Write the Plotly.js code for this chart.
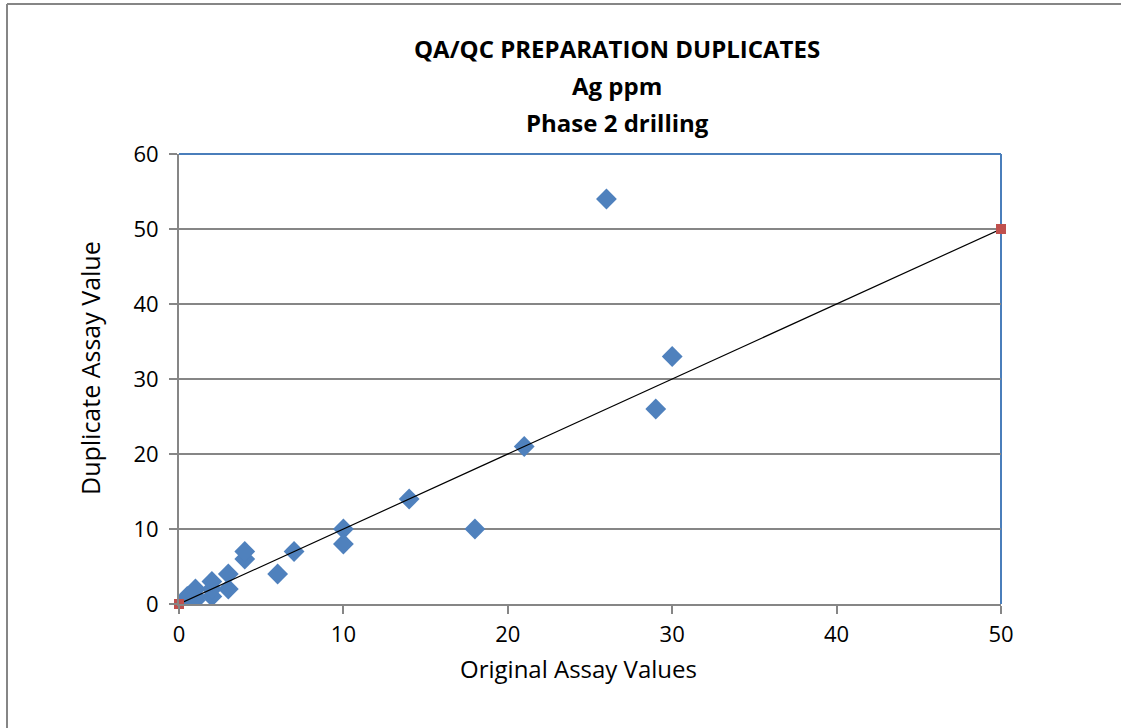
<!DOCTYPE html>
<html>
<head>
<meta charset="utf-8">
<script src="https://cdn.plot.ly/plotly-3.0.1.min.js"></script>
<style>html,body{margin:0;padding:0;background:#fff}#chart{width:1121px;height:728px}</style>
</head>
<body>
<div id="chart"></div>
<script>
const originalValues = [0.5, 0.5, 1, 1, 1, 2, 2, 2, 3, 3, 4, 4, 6, 7, 10, 10, 14, 18, 21, 26, 29, 30];
const duplicateValues = [0.5, 1, 0.5, 1, 2, 1, 2, 3, 2, 4, 6, 7, 4, 7, 10, 8, 14, 10, 21, 54, 26, 33];
const referenceX = [0, 50];
const referenceY = [0, 50];
const titleLines = ["QA/QC PREPARATION DUPLICATES", "Ag ppm", "Phase 2 drilling"];
const xTitle = "Original Assay Values";
const yTitle = "Duplicate Assay Value";

const L = 179, R = 1001, T = 154, B = 604, W = 1121, H = 728;
const px = v => (v - L) / (R - L);
const py = v => (B - v) / (B - T);

const traces = [
  {x: originalValues, y: duplicateValues, type: 'scatter', mode: 'markers',
   marker: {symbol: 'diamond', size: 16, color: '#4F81BD', line: {width: 0}}, hoverinfo: 'x+y'},
  {x: referenceX, y: referenceY, type: 'scatter', mode: 'lines+markers',
   line: {color: '#000000', width: 1.2},
   marker: {symbol: 'square', size: 10, color: '#C0504D'}, cliponaxis: false}
];

const font = "'Open Sans', 'Liberation Sans', sans-serif";
const annotations = titleLines.map((t, i) => ({
  text: '<b>' + t + '</b>', xref: 'paper', yref: 'paper', x: px(617), y: py([48, 86, 122][i]),
  showarrow: false, xanchor: 'center', yanchor: 'middle', font: {family: font, size: 24, color: '#000'}
}));
annotations.push({text: xTitle, xref: 'paper', yref: 'paper', x: px(578), y: py(668), showarrow: false,
  xanchor: 'center', yanchor: 'middle', font: {family: font, size: 24, color: '#000'}});
annotations.push({text: yTitle, xref: 'paper', yref: 'paper', x: px(90), y: py(368), showarrow: false,
  textangle: -90, xanchor: 'center', yanchor: 'middle', font: {family: font, size: 25, color: '#000'}});

const layout = {
  width: W, height: H,
  margin: {l: L, r: W - R, t: T, b: H - B, pad: 0},
  paper_bgcolor: '#fff', plot_bgcolor: '#fff',
  showlegend: false,
  font: {family: font, color: '#000'},
  xaxis: {range: [0, 50], tickvals: [0, 10, 20, 30, 40, 50], showgrid: false, zeroline: false,
    showline: true, linecolor: '#868686', linewidth: 2, ticks: 'outside', ticklen: 8, tickcolor: '#868686', tickwidth: 2,
    ticklabelstandoff: 2,
    tickfont: {family: font, size: 22, color: '#000'}, fixedrange: true},
  yaxis: {range: [0, 60], tickvals: [0, 10, 20, 30, 40, 50, 60], showgrid: true, gridcolor: '#868686', gridwidth: 2,
    zeroline: false, showline: true, linecolor: '#868686', linewidth: 2, ticks: 'outside', ticklen: 8,
    ticklabelstandoff: 6,
    tickcolor: '#868686', tickwidth: 2, tickfont: {family: font, size: 22, color: '#000'}, fixedrange: true},
  annotations: annotations,
  shapes: [
    {type: 'line', xref: 'paper', yref: 'paper', x0: 0, x1: 1, y0: 1, y1: 1, line: {color: '#4A7EBB', width: 2}, layer: 'above'},
    {type: 'line', xref: 'paper', yref: 'paper', x0: 1, x1: 1, y0: 0, y1: 1, line: {color: '#4A7EBB', width: 2}, layer: 'below'},
    {type: 'line', xref: 'paper', yref: 'paper', x0: px(7), x1: px(7), y0: py(4), y1: py(728), line: {color: '#868686', width: 2}},
    {type: 'line', xref: 'paper', yref: 'paper', x0: px(7), x1: px(1121), y0: py(4), y1: py(4), line: {color: '#868686', width: 2}}
  ]
};

Plotly.newPlot('chart', traces, layout, {displayModeBar: false, staticPlot: true});
</script>
</body>
</html>
